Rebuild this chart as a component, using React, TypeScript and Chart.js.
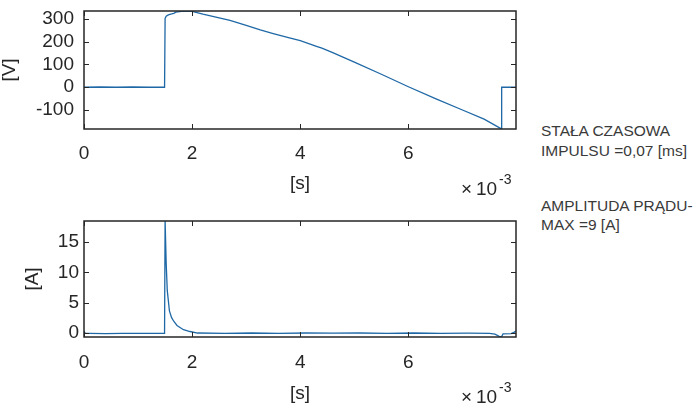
import React, { useEffect, useRef } from "react";
import { Chart, registerables } from "chart.js";

Chart.register(...registerables);

// ---- data (time in ms, displayed as [s] x 10^-3) ----
const timeV = [0, 0.3, 0.6, 0.9, 1.2, 1.49, 1.5, 1.52, 1.56, 1.62, 1.66, 1.7, 1.8, 1.9, 2.0, 2.2, 2.5, 2.7, 3.0, 3.26, 3.5, 3.8, 4.0, 4.3, 4.4, 4.6, 5.0, 5.5, 6.0, 6.5, 7.0, 7.4, 7.72, 7.725, 7.99];
const voltage = [0, 1, 0, 1, 0, 0, 302, 312, 318, 322, 325, 330, 333, 335, 333, 321, 305, 294, 272, 252, 236, 217, 205, 180, 172, 152, 110, 57, 2, -50, -100, -140, -183, 0, 0];

const timeI = [0, 0.02, 0.1, 0.4, 0.7, 1.0, 1.3, 1.49, 1.5, 1.52, 1.54, 1.58, 1.62, 1.66, 1.72, 1.84, 1.96, 2.1, 2.6, 3.1, 3.6, 4.1, 4.6, 5.1, 5.6, 6.1, 6.6, 7.1, 7.5, 7.6, 7.68, 7.72, 7.75, 7.9, 7.96, 7.99];
const current = [0.3, -0.1, -0.1, -0.15, -0.1, -0.12, -0.1, -0.1, 18.6, 11.5, 7, 3.6, 2.5, 1.9, 1.2, 0.5, 0.2, -0.05, -0.1, -0.05, -0.1, -0.05, -0.08, -0.05, -0.1, -0.05, -0.1, -0.08, -0.1, -0.25, -0.6, -0.7, -0.2, -0.15, 0.1, 0.3];

const xTicks = [0, 2, 4, 6];
const vTicks = [-100, 0, 100, 200, 300];
const iTicks = [0, 5, 10, 15];

const X_MIN = 0;
const X_MAX = 7.99;
const V_MIN = -183.5;
const V_MAX = 335;
const I_MIN = -0.71;
const I_MAX = 18.5;

const FONT = '"Liberation Sans", Arial, Helvetica, sans-serif';
const AXIS_COLOR = "#262626";
const LINE_COLOR = "#1f68a6";

type Cfg = {
  xs: number[];
  ys: number[];
  yMin: number;
  yMax: number;
  yTicks: number[];
  yTitle: string;
  yTickPad: number;
  yTitlePad: number;
  xHeight: number;
  xTickPad: number;
  xTitlePad: number;
  expBaseline: number;
};

function makeChart(canvas: HTMLCanvasElement, c: Cfg) {
  const boxPlugin = {
    id: "matlabBox",
    afterDatasetsDraw(chart: any) {
      const { ctx, chartArea } = chart;
      const { left, right, top, bottom } = chartArea;
      const xs = chart.scales.x;
      const ys = chart.scales.y;
      ctx.save();
      ctx.strokeStyle = AXIS_COLOR;
      ctx.lineWidth = 1.5;
      ctx.strokeRect(left, top, right - left, bottom - top);
      ctx.lineWidth = 1;
      const tl = 5;
      ctx.beginPath();
      xs.ticks.forEach((t: any) => {
        const px = Math.round(xs.getPixelForValue(t.value)) + 0.5;
        ctx.moveTo(px, bottom);
        ctx.lineTo(px, bottom - tl);
        ctx.moveTo(px, top);
        ctx.lineTo(px, top + tl);
      });
      ys.ticks.forEach((t: any) => {
        const py = Math.round(ys.getPixelForValue(t.value)) + 0.5;
        ctx.moveTo(left, py);
        ctx.lineTo(left + tl, py);
        ctx.moveTo(right, py);
        ctx.lineTo(right - tl, py);
      });
      ctx.stroke();
      // exponent label
      ctx.fillStyle = AXIS_COLOR;
      ctx.textAlign = "left";
      ctx.textBaseline = "alphabetic";
      ctx.font = `19px ${FONT}`;
      ctx.fillText("\u00d7", 461, c.expBaseline);
      ctx.fillText("10", 476, c.expBaseline);
      ctx.font = `14px ${FONT}`;
      ctx.fillText("-3", 499, c.expBaseline - 11);
      ctx.restore();
    },
  };

  return new Chart(canvas, {
    type: "line",
    data: {
      datasets: [
        {
          data: c.xs.map((x, i) => ({ x, y: c.ys[i] })),
          borderColor: LINE_COLOR,
          borderWidth: 1.3,
          pointRadius: 0,
          tension: 0,
          fill: false,
        },
      ],
    },
    options: {
      responsive: false,
      animation: false,
      events: [],
      devicePixelRatio: 1,
      layout: { padding: { left: 0, top: 11, right: 14, bottom: 0 } },
      plugins: { legend: { display: false }, tooltip: { enabled: false } },
      scales: {
        x: {
          type: "linear",
          min: X_MIN,
          max: X_MAX,
          afterBuildTicks: (s: any) => {
            s.ticks = xTicks.map((v) => ({ value: v }));
          },
          afterFit: (s: any) => {
            s.height = c.xHeight;
            s.paddingLeft = 0;
            s.paddingRight = 0;
          },
          grid: { display: false, drawTicks: false },
          border: { display: false },
          ticks: {
            color: AXIS_COLOR,
            font: { family: FONT, size: 19, lineHeight: 1.2 },
            padding: c.xTickPad,
            maxRotation: 0,
            autoSkip: false,
            callback: (v: any) => String(v),
          },
          title: {
            display: true,
            text: "[s]",
            color: AXIS_COLOR,
            font: { family: FONT, size: 19, lineHeight: 1.2 },
            padding: { top: 0, bottom: c.xTitlePad },
          },
        },
        y: {
          type: "linear",
          min: c.yMin,
          max: c.yMax,
          afterBuildTicks: (s: any) => {
            s.ticks = c.yTicks.map((v) => ({ value: v }));
          },
          afterFit: (s: any) => {
            s.width = 84;
            s.paddingTop = 0;
            s.paddingBottom = 0;
          },
          grid: { display: false, drawTicks: false },
          border: { display: false },
          ticks: {
            color: AXIS_COLOR,
            font: { family: FONT, size: 19, lineHeight: 1.2 },
            padding: c.yTickPad,
            autoSkip: false,
            callback: (v: any) => String(v),
          },
          title: {
            display: true,
            text: c.yTitle,
            color: AXIS_COLOR,
            font: { family: FONT, size: 19, lineHeight: 1 },
            padding: { top: c.yTitlePad, bottom: 0 },
          },
        },
      },
    },
    plugins: [boxPlugin],
  } as any);
}

export default function App() {
  const topRef = useRef<HTMLCanvasElement>(null);
  const botRef = useRef<HTMLCanvasElement>(null);

  useEffect(() => {
    const c1 = makeChart(topRef.current!, {
      xs: timeV,
      ys: voltage,
      yMin: V_MIN,
      yMax: V_MAX,
      yTicks: vTicks,
      yTitle: "[V]",
      yTickPad: 10,
      yTitlePad: 0,
      xHeight: 205 - 129,
      xTickPad: 13,
      xTitlePad: 10,
      expBaseline: 195,
    });
    const c2 = makeChart(botRef.current!, {
      xs: timeI,
      ys: current,
      yMin: I_MIN,
      yMax: I_MAX,
      yTicks: iTicks,
      yTitle: "[A]",
      yTickPad: 5,
      yTitlePad: 23,
      xHeight: 208 - (337 - 210),
      xTickPad: 14,
      xTitlePad: 13,
      expBaseline: 193,
    });
    return () => {
      c1.destroy();
      c2.destroy();
    };
  }, []);

  const noteStyle: React.CSSProperties = {
    position: "absolute",
    left: 541,
    fontFamily: FONT,
    fontSize: 15.5,
    lineHeight: "15px",
    color: "#3a3a3a",
    whiteSpace: "nowrap",
  };

  return (
    <div
      style={{
        position: "absolute",
        left: 0,
        top: 0,
        width: 700,
        height: 418,
        background: "#fff",
        overflow: "hidden",
      }}
    >
      <canvas ref={topRef} width={530} height={205} style={{ position: "absolute", left: 0, top: 0 }} />
      <canvas ref={botRef} width={530} height={208} style={{ position: "absolute", left: 0, top: 210 }} />
      <div style={{ ...noteStyle, top: 123 }}>STAŁA CZASOWA</div>
      <div style={{ ...noteStyle, top: 143 }}>IMPULSU =0,07 [ms]</div>
      <div style={{ ...noteStyle, top: 198 }}>AMPLITUDA PRĄDU-</div>
      <div style={{ ...noteStyle, top: 217 }}>MAX =9 [A]</div>
    </div>
  );
}
